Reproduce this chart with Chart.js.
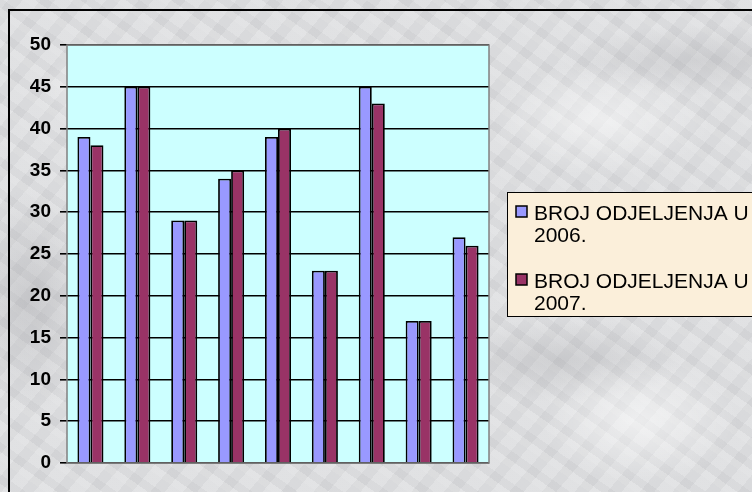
<!DOCTYPE html>
<html>
<head>
<meta charset="utf-8">
<script src="https://cdn.jsdelivr.net/npm/chart.js@4.4.1/dist/chart.umd.min.js"></script>
<style>
  html, body { margin: 0; padding: 0; }
  body {
    width: 752px; height: 492px; overflow: hidden; position: relative;
    background-color: #dcdddf;
    background-image:
      radial-gradient(ellipse 120px 60px at 120px 90px, rgba(255,255,255,0.55), rgba(255,255,255,0) 70%),
      radial-gradient(ellipse 160px 80px at 600px 120px, rgba(255,255,255,0.5), rgba(255,255,255,0) 70%),
      radial-gradient(ellipse 140px 90px at 640px 420px, rgba(255,255,255,0.55), rgba(255,255,255,0) 70%),
      radial-gradient(ellipse 90px 160px at 30px 300px, rgba(150,150,155,0.3), rgba(150,150,155,0) 70%),
      radial-gradient(ellipse 180px 60px at 560px 360px, rgba(140,140,145,0.22), rgba(140,140,145,0) 70%),
      radial-gradient(ellipse 200px 50px at 700px 60px, rgba(140,140,145,0.2), rgba(140,140,145,0) 70%),
      repeating-linear-gradient(35deg, rgba(255,255,255,0.12) 0 7px, rgba(160,160,165,0.08) 7px 15px, rgba(255,255,255,0.06) 15px 26px),
      repeating-linear-gradient(-50deg, rgba(120,120,125,0.05) 0 11px, rgba(255,255,255,0.08) 11px 25px);
  }
  #frame {
    position: absolute; left: 8px; top: 9px; width: 760px; height: 500px;
    border-left: 2px solid #000; border-top: 2px solid #000;
  }
  canvas { position: absolute; left: 0; top: 0; }
</style>
</head>
<body>
<div id="frame"></div>
<canvas id="chart" width="752" height="492"></canvas>
<script>
const categories = ["1", "2", "3", "4", "5", "6", "7", "8", "9"];
const seriesNames = [["BROJ ODJELJENJA U", "2006."], ["BROJ ODJELJENJA U", "2007."]];
const values2006 = [39, 45, 29, 34, 39, 23, 45, 17, 27];
const values2007 = [38, 45, 29, 35, 40, 23, 43, 17, 26];
const yTicks = [0, 5, 10, 15, 20, 25, 30, 35, 40, 45, 50];
const colors = ["#9999ff", "#993366"];

// plot background and border
const plotBg = {
  id: "plotBg",
  beforeDraw(chart) {
    const { ctx, chartArea: a } = chart;
    ctx.save();
    ctx.fillStyle = "#ccffff";
    ctx.fillRect(a.left, a.top, a.right - a.left, a.bottom - a.top);
    ctx.restore();
  },
  afterDatasetsDraw(chart) {
    const { ctx, chartArea: a } = chart;
    ctx.save();
    ctx.strokeStyle = "#808080";
    ctx.lineWidth = 1.5;
    ctx.strokeRect(a.left, a.top, a.right - a.left, a.bottom - a.top);
    ctx.restore();
  }
};

// legend box on the right, two-line labels
const boxLegend = {
  id: "boxLegend",
  afterDraw(chart) {
    const ctx = chart.ctx;
    const x = 507, y = 192, w = 260, h = 124;
    ctx.save();
    ctx.fillStyle = "#fbefda";
    ctx.fillRect(x, y, w, h);
    ctx.strokeStyle = "#000";
    ctx.lineWidth = 1;
    ctx.strokeRect(x + 0.5, y + 0.5, w, h);
    ctx.font = "21px 'Liberation Sans', Arial, sans-serif";
    ctx.textBaseline = "alphabetic";
    chart.data.datasets.forEach((ds, i) => {
      const capTop = y + 13 + i * 68;
      ctx.fillStyle = ds.backgroundColor;
      ctx.fillRect(x + 9, capTop + 1, 11, 11);
      ctx.strokeStyle = "#000";
      ctx.lineWidth = 1.5;
      ctx.strokeRect(x + 9, capTop + 1, 11, 11);
      ctx.fillStyle = "#000";
      seriesNames[i].forEach((line, j) => {
        ctx.fillText(line, x + 27, capTop + 15 + j * 22);
      });
    });
    ctx.restore();
  }
};

new Chart(document.getElementById("chart"), {
  type: "bar",
  data: {
    labels: categories,
    datasets: [
      { label: seriesNames[0].join(" "), data: values2006, backgroundColor: colors[0] },
      { label: seriesNames[1].join(" "), data: values2007, backgroundColor: colors[1] }
    ]
  },
  options: {
    responsive: false,
    animation: false,
    layout: { padding: { left: 0, top: 45, right: 263, bottom: 29 } },
    plugins: { legend: { display: false }, tooltip: { enabled: false } },
    datasets: {
      bar: {
        borderColor: "#000",
        borderWidth: 1.8,
        categoryPercentage: 0.555,
        barPercentage: 1
      }
    },
    scales: {
      x: { display: false, grid: { display: false } },
      y: {
        min: 0,
        max: 50,
        afterBuildTicks: (s) => { s.ticks = yTicks.map((v) => ({ value: v })); },
        afterFit: (s) => { s.width = 67; },
        border: { display: false },
        grid: { color: "#000", lineWidth: 1.6, tickLength: 7, tickColor: "#000" },
        ticks: {
          color: "#000",
          padding: 9,
          font: { family: "'Liberation Sans', Arial, sans-serif", size: 19, weight: "bold" }
        }
      }
    }
  },
  plugins: [plotBg, boxLegend]
});
</script>
</body>
</html>
